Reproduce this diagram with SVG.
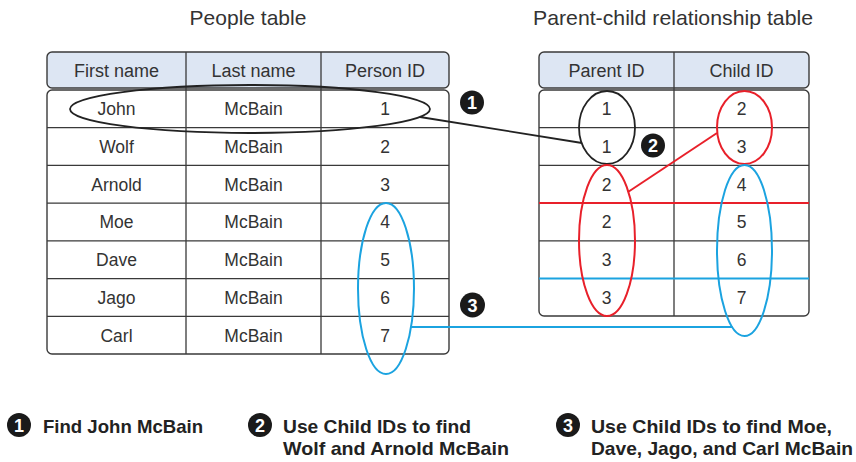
<svg xmlns="http://www.w3.org/2000/svg" width="856" height="462" viewBox="0 0 856 462">
<style>
.title{font-family:"Liberation Sans",Arial,sans-serif;font-size:21px;fill:#333;text-anchor:middle}
.hd{font-family:"Liberation Sans",Arial,sans-serif;font-size:18px;fill:#333;text-anchor:middle}
.cell{font-family:"Liberation Sans",Arial,sans-serif;font-size:17.5px;fill:#333;text-anchor:middle}
.head{fill:#dde6f3;stroke:#3a3a3a;stroke-width:1.4}
.body{fill:#fff;stroke:#3a3a3a;stroke-width:1.4}
.grid{stroke:#3a3a3a;stroke-width:1.3;fill:none}
.badge{fill:#1a1a1a}
.bnum{font-family:"Liberation Sans",Arial,sans-serif;font-weight:bold;font-size:18px;fill:#fff;text-anchor:middle}
.cap{font-family:"Liberation Sans",Arial,sans-serif;font-weight:bold;font-size:18.5px;fill:#222}
.blk{fill:none;stroke:#222;stroke-width:1.8}
.red{fill:none;stroke:#e8202a;stroke-width:2}
.blue{fill:none;stroke:#1ba3e0;stroke-width:2}
</style>

<text class="title" x="248" y="25">People table</text>
<text class="title" x="673" y="25" textLength="280" lengthAdjust="spacingAndGlyphs">Parent-child relationship table</text>

<g id="people-table">
  <rect class="head" x="47" y="52" width="402" height="36" rx="5"/>
  <rect class="body" x="47" y="90" width="402" height="264" rx="5"/>
  <path class="grid" d="M186 52V354M321 52V354M47 127.7H449M47 165.4H449M47 203.1H449M47 240.9H449M47 278.6H449M47 316.3H449"/>
  <text class="hd" x="116.5" y="76.7">First name</text>
  <text class="hd" x="253.5" y="76.7">Last name</text>
  <text class="hd" x="385" y="76.7">Person ID</text>
  <text class="cell" x="116.5" y="115.3">John</text><text class="cell" x="253.5" y="115.3">McBain</text><text class="cell" x="385" y="115.3">1</text>
  <text class="cell" x="116.5" y="153">Wolf</text><text class="cell" x="253.5" y="153">McBain</text><text class="cell" x="385" y="153">2</text>
  <text class="cell" x="116.5" y="190.7">Arnold</text><text class="cell" x="253.5" y="190.7">McBain</text><text class="cell" x="385" y="190.7">3</text>
  <text class="cell" x="116.5" y="228.4">Moe</text><text class="cell" x="253.5" y="228.4">McBain</text><text class="cell" x="385" y="228.4">4</text>
  <text class="cell" x="116.5" y="266.1">Dave</text><text class="cell" x="253.5" y="266.1">McBain</text><text class="cell" x="385" y="266.1">5</text>
  <text class="cell" x="116.5" y="303.8">Jago</text><text class="cell" x="253.5" y="303.8">McBain</text><text class="cell" x="385" y="303.8">6</text>
  <text class="cell" x="116.5" y="341.5">Carl</text><text class="cell" x="253.5" y="341.5">McBain</text><text class="cell" x="385" y="341.5">7</text>
</g>

<g id="relationship-table">
  <rect class="head" x="539" y="52" width="270" height="36" rx="5"/>
  <rect class="body" x="539" y="90" width="270" height="226" rx="5"/>
  <path class="grid" d="M674 52V316M539 127.7H809M539 165.4H809M539 240.9H809"/>
  <text class="hd" x="606.5" y="76.7">Parent ID</text>
  <text class="hd" x="741.5" y="76.7">Child ID</text>
  <text class="cell" x="606.5" y="115.3">1</text><text class="cell" x="741.5" y="115.3">2</text>
  <text class="cell" x="606.5" y="153">1</text><text class="cell" x="741.5" y="153">3</text>
  <text class="cell" x="606.5" y="190.7">2</text><text class="cell" x="741.5" y="190.7">4</text>
  <text class="cell" x="606.5" y="228.4">2</text><text class="cell" x="741.5" y="228.4">5</text>
  <text class="cell" x="606.5" y="266.1">3</text><text class="cell" x="741.5" y="266.1">6</text>
  <text class="cell" x="606.5" y="303.8">3</text><text class="cell" x="741.5" y="303.8">7</text>
</g>

<g id="connectors">
  <line class="red" x1="539" y1="203.1" x2="809" y2="203.1"/>
  <line class="blue" x1="539" y1="278.6" x2="809" y2="278.6"/>
  <ellipse class="blk" cx="250" cy="109" rx="180" ry="24"/>
  <line class="blk" x1="420" y1="117" x2="582" y2="143"/>
  <ellipse class="blk" cx="607" cy="127.5" rx="28" ry="36.5"/>
  <ellipse class="red" cx="744.5" cy="127.5" rx="27.5" ry="36.5"/>
  <line class="red" x1="717" y1="133" x2="628" y2="192"/>
  <ellipse class="red" cx="607" cy="240.5" rx="28" ry="75.5"/>
  <ellipse class="blue" cx="744.5" cy="250.5" rx="27.5" ry="85.5"/>
  <ellipse class="blue" cx="386" cy="288.5" rx="28" ry="85.5"/>
  <line class="blue" x1="411" y1="327" x2="732.5" y2="327"/>
</g>

<g id="badges">
  <circle class="badge" cx="472" cy="102.5" r="12"/><text class="bnum" x="472" y="109">1</text>
  <circle class="badge" cx="653" cy="145.5" r="12"/><text class="bnum" x="653" y="152">2</text>
  <circle class="badge" cx="472.5" cy="305" r="12.5"/><text class="bnum" x="472.5" y="311.5">3</text>
</g>

<g id="captions">
  <circle class="badge" cx="19" cy="425" r="12"/><text class="bnum" x="19" y="431.5">1</text>
  <text class="cap" x="43" y="433" textLength="160" lengthAdjust="spacingAndGlyphs">Find John McBain</text>
  <circle class="badge" cx="260" cy="425" r="12"/><text class="bnum" x="260" y="431.5">2</text>
  <text class="cap" x="283" y="433" textLength="188" lengthAdjust="spacingAndGlyphs">Use Child IDs to find</text>
  <text class="cap" x="283" y="455" textLength="226" lengthAdjust="spacingAndGlyphs">Wolf and Arnold McBain</text>
  <circle class="badge" cx="568" cy="425" r="12"/><text class="bnum" x="568" y="431.5">3</text>
  <text class="cap" x="591" y="433" textLength="241" lengthAdjust="spacingAndGlyphs">Use Child IDs to find Moe,</text>
  <text class="cap" x="591" y="455" textLength="262" lengthAdjust="spacingAndGlyphs">Dave, Jago, and Carl McBain</text>
</g>
</svg>
